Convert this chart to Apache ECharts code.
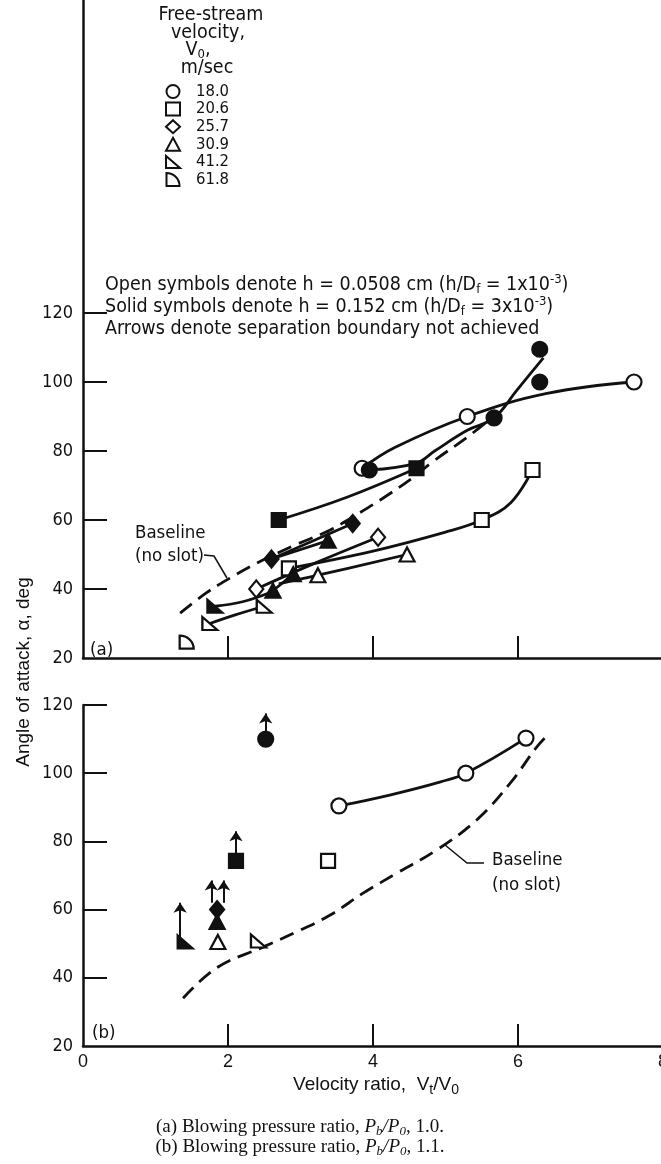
<!DOCTYPE html>
<html>
<head>
<meta charset="utf-8">
<script src="https://cdn.jsdelivr.net/npm/echarts@6/dist/echarts.min.js"></script>
<style>
  html, body { margin: 0; padding: 0; background: #fff; }
  #chart { width: 661px; height: 1164px; }
</style>
</head>
<body>
<div id="chart"></div>
<script>
// ---- data (x = Vt/V0, y = angle of attack, deg) ----
const velocities = ['18.0', '20.6', '25.7', '30.9', '41.2', '61.8']
const yTicks = [20, 40, 60, 80, 100, 120]
const xTicks = [0, 2, 4, 6, 8]

// (a) Pb/P0 = 1.0
const aOpenCircle = [[3.85, 75], [5.3, 90], [7.6, 100]]
const aSolidCircle = [[3.95, 74.5], [5.67, 89.6], [6.3, 100], [6.3, 109.5]]
const aOpenSquare = [[2.84, 46], [5.5, 60], [6.2, 74.5]]
const aSolidSquare = [[2.7, 60], [4.6, 75]]
const aOpenDiamond = [[2.39, 40], [4.07, 55]]
const aSolidDiamond = [[2.6, 48.7], [3.72, 59]]
const aOpenTri = [[3.24, 44], [4.47, 50]]
const aSolidTri = [[2.62, 39.5], [2.9, 44.3], [3.38, 54]]
const aOpenFlag = [[1.75, 30], [2.5, 35]]
const aSolidFlag = [[1.82, 35]]
const aOpenDee = [[1.43, 24.6]]

// faired curves (a)
const aCurveOpenCircle = [[3.85, 75], [4.3, 81], [5.3, 90], [6.4, 96.7], [7.6, 100]]
const aCurveSolidCircle = [[3.95, 74.5], [4.6, 76.5], [4.85, 80], [5.3, 86], [5.67, 89.6], [5.98, 97.5], [6.35, 107]]
const aCurveOpenSquare = [[2.84, 46], [4.0, 51], [5.0, 56.5], [5.5, 60], [5.9, 65], [6.2, 74.5]]
const aCurveSolidSquare = [[2.7, 60], [3.64, 66.6], [4.6, 75]]
const aCurveOpenDiamond = [[2.39, 40], [3.2, 47.5], [4.07, 55]]
const aCurveSolidDiamond = [[2.6, 48.7], [3.72, 59]]
const aCurveOpenTri = [[2.7, 41.5], [3.24, 44], [4.47, 50]]
const aCurveSolidTriLow = [[2.62, 39.5], [2.9, 44.3]]
const aCurveSolidTriHigh = [[2.6, 48.7], [3.38, 54]]
const aCurveOpenFlag = [[1.75, 30], [2.1, 32.5], [2.5, 35]]
const aCurveSolidFlag = [[1.82, 35], [2.2, 36.3], [2.58, 39]]
const aBaseline = [[1.34, 33], [1.71, 39], [2.03, 43.2], [2.4, 47.5], [2.9, 52.5], [3.41, 57.1], [3.72, 60.9], [4.1, 65.8], [4.55, 72.3], [4.83, 77], [5.3, 84], [5.6, 89]]

// (b) Pb/P0 = 1.1
const bOpenCircle = [[3.53, 90.4], [5.28, 100], [6.11, 110.3]]
const bSolidCircle = [[2.52, 110]]
const bOpenSquare = [[3.38, 74.3]]
const bSolidSquare = [[2.11, 74.3]]
const bSolidDiamond = [[1.85, 60]]
const bSolidTri = [[1.85, 56.4]]
const bOpenTri = [[1.86, 50.5]]
const bOpenFlag = [[2.42, 50.8]]
const bSolidFlag = [[1.41, 50.5]]
const bCurveOpenCircle = [[3.53, 90.4], [4.23, 93.6], [4.92, 97.4], [5.28, 100], [6.11, 110.3]]
const bBaseline = [[1.38, 34], [1.85, 43], [2.48, 49], [3.0, 54], [3.41, 58.4], [3.87, 64.9], [4.33, 70.7], [4.88, 77.5], [5.43, 86.3], [5.89, 97], [6.26, 107.7], [6.44, 111.8]]
// arrows: separation boundary not achieved
const bArrows = [
  [[2.52, 112], [2.52, 117.5]],
  [[2.11, 76.5], [2.11, 83]],
  [[1.77, 62], [1.77, 68.5]],
  [[1.94, 62], [1.94, 68.5]],
  [[1.34, 50.5], [1.34, 62]],
]

const FONT = "'Liberation Sans Narrow', 'DejaVu Sans Condensed', 'Roboto', sans-serif"
const SANS = "'Liberation Sans', Arial, sans-serif"
const SERIF = "'Liberation Serif', 'Times New Roman', serif"
const INK = '#111'

const SYM = {
  circle: 'circle',
  square: 'rect',
  diamond: 'diamond',
  tri: 'triangle',
  flag: 'path://M0,0 L0,12 L14,12 Z',
  dee: 'path://M0,0 A12,12 0 0 1 12,12 L0,12 Z',
}
const SIZE = { circle: 15, square: 14, diamond: [14, 17], tri: [15, 14], flag: [15, 13], dee: [14, 13] }

function marks(name, data, shape, solid, g) {
  return {
    name,
    type: 'scatter',
    xAxisIndex: g,
    yAxisIndex: g,
    data,
    symbol: SYM[shape],
    symbolSize: SIZE[shape],
    z: 5,
    itemStyle: { color: solid ? INK : '#fff', borderColor: INK, borderWidth: 2.2, opacity: 1 },
    silent: true,
  }
}

function curve(data, g, dashed) {
  return {
    type: 'line',
    xAxisIndex: g,
    yAxisIndex: g,
    data,
    smooth: 0.4,
    showSymbol: false,
    z: 3,
    silent: true,
    lineStyle: { color: INK, width: 2.8, type: dashed ? [15, 8] : 'solid' },
  }
}

const series = [
  curve(aCurveOpenCircle, 0), curve(aCurveSolidCircle, 0), curve(aCurveOpenSquare, 0),
  curve(aCurveSolidSquare, 0), curve(aCurveOpenDiamond, 0), curve(aCurveSolidDiamond, 0),
  curve(aCurveOpenTri, 0), curve(aCurveSolidTriLow, 0), curve(aCurveSolidTriHigh, 0),
  curve(aCurveOpenFlag, 0), curve(aCurveSolidFlag, 0), curve(aBaseline, 0, true),
  curve(bCurveOpenCircle, 1), curve(bBaseline, 1, true),
  // open symbols carry the legend names
  marks(velocities[0], aOpenCircle, 'circle', false, 0),
  marks(velocities[1], aOpenSquare, 'square', false, 0),
  marks(velocities[2], aOpenDiamond, 'diamond', false, 0),
  marks(velocities[3], aOpenTri, 'tri', false, 0),
  marks(velocities[4], aOpenFlag, 'flag', false, 0),
  marks(velocities[5], aOpenDee, 'dee', false, 0),
  marks('s18.0', aSolidCircle, 'circle', true, 0),
  marks('s20.6', aSolidSquare, 'square', true, 0),
  marks('s30.9', aSolidTri, 'tri', true, 0),
  marks('s25.7', aSolidDiamond, 'diamond', true, 0),
  marks('s41.2', aSolidFlag, 'flag', true, 0),
  marks('b18.0', bOpenCircle, 'circle', false, 1),
  marks('b20.6', bOpenSquare, 'square', false, 1),
  marks('b30.9', bOpenTri, 'tri', false, 1),
  marks('b41.2', bOpenFlag, 'flag', false, 1),
  marks('bs18.0', bSolidCircle, 'circle', true, 1),
  marks('bs20.6', bSolidSquare, 'square', true, 1),
  marks('bs25.7', bSolidDiamond, 'diamond', true, 1),
  marks('bs30.9', bSolidTri, 'tri', true, 1),
  marks('bs41.2', bSolidFlag, 'flag', true, 1),
  {
    type: 'lines',
    coordinateSystem: 'cartesian2d',
    xAxisIndex: 1,
    yAxisIndex: 1,
    data: bArrows.map(c => ({ coords: c })),
    symbol: ['none', 'arrow'],
    symbolSize: [0, 10],
    lineStyle: { color: INK, width: 2, opacity: 1 },
    z: 6,
    silent: true,
  },
]

function yAxis(g, max, labels) {
  return {
    type: 'value',
    gridIndex: g,
    min: 20,
    max,
    interval: 20,
    splitLine: { show: false },
    axisLine: { show: true, lineStyle: { color: INK, width: 2.5 } },
    axisTick: { show: true, inside: true, length: 24, lineStyle: { color: INK, width: 2 }, customValues: labels.slice(1) },
    axisLabel: { color: INK, fontSize: 18, fontFamily: FONT, margin: 10, customValues: labels },
  }
}

function xAxis(g, showLabels) {
  return {
    type: 'value',
    gridIndex: g,
    min: 0,
    max: 8,
    interval: 2,
    splitLine: { show: false },
    axisLine: { show: true, onZero: false, lineStyle: { color: INK, width: 2.5 } },
    axisTick: { show: true, inside: true, length: 22, lineStyle: { color: INK, width: 2 }, customValues: xTicks.slice(1, 4) },
    axisLabel: { show: showLabels, color: INK, fontSize: 18, fontFamily: SANS, margin: 7, customValues: xTicks },
  }
}

const NOTE = 19.5
const rich = {
  t: { fontSize: NOTE, fontFamily: FONT, fill: INK },
  sub: { fontSize: 13, fontFamily: FONT, fill: INK, padding: [10, 0, 0, 0] },
  sup: { fontSize: 13, fontFamily: FONT, fill: INK, padding: [0, 0, 10, 0] },
}

function label(x, y, text, size, align) {
  return { type: 'text', x, y, style: { text, fontSize: size || NOTE, fontFamily: FONT, fill: INK, align: align || 'left', verticalAlign: 'middle' } }
}

const capRich = {
  r: { fontSize: 19, fontFamily: SERIF, fill: INK },
  i: { fontSize: 19, fontStyle: 'italic', fontFamily: SERIF, fill: INK },
  s: { fontSize: 13, fontStyle: 'italic', fontFamily: SERIF, fill: INK, padding: [9, 0, 0, 0] },
}

const graphic = [
  // legend header
  label(211, 15, 'Free-stream', NOTE, 'center'),
  label(208, 33, 'velocity,', NOTE, 'center'),
  { type: 'text', x: 198, y: 50, style: { text: '{t|V}{sub|0}{t|,}', rich, align: 'center', verticalAlign: 'middle' } },
  label(207, 68, 'm/sec', NOTE, 'center'),
  // notes
  { type: 'text', x: 105, y: 285, style: { text: '{t|Open symbols denote h = 0.0508 cm (h/D}{sub|f}{t| = 1x10}{sup|-3}{t|)}', rich, verticalAlign: 'middle' } },
  { type: 'text', x: 105, y: 307, style: { text: '{t|Solid symbols denote h = 0.152 cm (h/D}{sub|f}{t| = 3x10}{sup|-3}{t|)}', rich, verticalAlign: 'middle' } },
  label(105, 329, 'Arrows denote separation boundary not achieved'),
  // baseline labels (a)
  label(135, 533, 'Baseline', 18.5),
  label(135, 556, '(no slot)', 18.5),
  { type: 'polyline', shape: { points: [[204, 555], [214, 556], [227, 578]] }, style: { stroke: INK, lineWidth: 1.5, fill: null } },
  // baseline labels (b)
  label(492, 860, 'Baseline', 18.5),
  label(492, 885, '(no slot)', 18.5),
  { type: 'polyline', shape: { points: [[445, 845], [467, 863], [484, 863]] }, style: { stroke: INK, lineWidth: 1.5, fill: null } },
  // panel tags
  label(90, 650, '(a)', 18.5),
  label(92, 1033, '(b)', 18.5),
  // axis titles
  { type: 'text', x: 24, y: 672, rotation: Math.PI / 2, style: { text: 'Angle of attack, \u03b1, deg', fontSize: 19, fontFamily: SANS, fill: INK, align: 'center', verticalAlign: 'middle' } },
  { type: 'text', x: 376, y: 1085, style: {
    text: '{t|Velocity ratio,  V}{sub|t}{t|/V}{sub|0}', align: 'center', verticalAlign: 'middle',
    rich: {
      t: { fontSize: 19, fontFamily: SANS, fill: INK },
      sub: { fontSize: 14, fontFamily: SANS, fill: INK, padding: [10, 0, 0, 0] },
    } } },
  // captions
  { type: 'text', x: 300, y: 1127, style: { text: '{r|(a) Blowing pressure ratio, }{i|P}{s|b}{i|/P}{s|0}{r|, 1.0.}', align: 'center', verticalAlign: 'middle', rich: capRich } },
  { type: 'text', x: 300, y: 1147, style: { text: '{r|(b) Blowing pressure ratio, }{i|P}{s|b}{i|/P}{s|0}{r|, 1.1.}', align: 'center', verticalAlign: 'middle', rich: capRich } },
]

const chart = echarts.init(document.getElementById('chart'), null, { renderer: 'canvas' })
chart.setOption({
  animation: false,
  backgroundColor: '#fff',
  grid: [
    { left: 83, top: 0, width: 580, height: 658, outerBoundsMode: 'none' },
    { left: 83, top: 705, width: 580, height: 341, outerBoundsMode: 'none' },
  ],
  xAxis: [xAxis(0, false), xAxis(1, true)],
  yAxis: [yAxis(0, 20 + 658 / 3.45, yTicks), yAxis(1, 120, yTicks)],
  legend: {
    orient: 'vertical',
    left: 165,
    top: 83,
    padding: 0,
    itemWidth: 14,
    itemHeight: 13,
    itemGap: 0.6,
    selectedMode: false,
    data: velocities,
    textStyle: { fontSize: 16.5, fontFamily: FONT, color: INK, lineHeight: 15.8, padding: [0, 0, 0, 11] },
  },
  series,
  graphic,
})
</script>
</body>
</html>
